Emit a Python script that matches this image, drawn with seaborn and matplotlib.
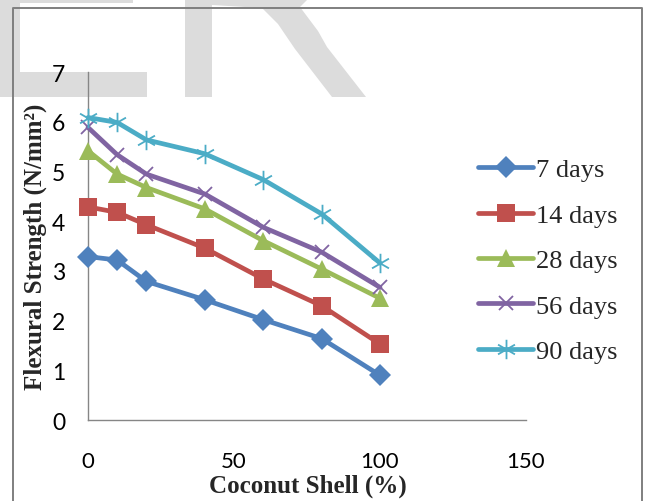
import numpy as np
import pandas as pd
import matplotlib
matplotlib.use("Agg")
import matplotlib.pyplot as plt
from matplotlib.path import Path
from matplotlib.patches import Rectangle, Polygon
from matplotlib.lines import Line2D
import seaborn as sns

# ---------------- data ----------------
coconut_shell = [0, 10, 20, 40, 60, 80, 100]
days_7 = [3.29, 3.22, 2.79, 2.42, 2.02, 1.64, 0.90]
days_14 = [4.29, 4.18, 3.93, 3.46, 2.84, 2.30, 1.53]
days_28 = [5.42, 4.95, 4.68, 4.25, 3.61, 3.04, 2.45]
days_56 = [5.89, 5.34, 4.95, 4.55, 3.88, 3.38, 2.67]
days_90 = [6.09, 5.99, 5.64, 5.36, 4.84, 4.15, 3.16]
series_labels = ["7 days", "14 days", "28 days", "56 days", "90 days"]
x_ticks = [0, 50, 100, 150]
y_ticks = [0, 1, 2, 3, 4, 5, 6, 7]

series_values = [days_7, days_14, days_28, days_56, days_90]
colors = ["#4F81BD", "#C0504D", "#9BBB59", "#8064A2", "#4BACC6"]

# asterisk marker (Excel "star")
star_path = Path(
    [(0, -1), (0, 1), (-0.87, -0.5), (0.87, 0.5), (-0.87, 0.5), (0.87, -0.5)],
    [Path.MOVETO, Path.LINETO, Path.MOVETO, Path.LINETO, Path.MOVETO, Path.LINETO],
)
marker_styles = [
    dict(marker="D", markersize=11.5, markeredgewidth=0),
    dict(marker="s", markersize=13.5, markeredgewidth=0),
    dict(marker="^", markersize=13, markeredgewidth=0),
    dict(marker="x", markersize=10, markeredgewidth=1.3),
    dict(marker=star_path, markersize=14, markeredgewidth=1.3, fillstyle="none"),
]

sns.set_style("white")

W, H = 648, 502
fig = plt.figure(figsize=(W / 100, H / 100), dpi=100)
fig.patch.set_facecolor("white")


def fx(px):
    return px / W


def fy(py):
    return 1 - py / H


# ---------------- watermark ("ER") ----------------
wm = "#DCDCDC"
for (x0, y0, x1, y1) in [(0, 0, 133, 4), (0, 0, 20, 98), (0, 73, 147, 98), (185, 0, 212, 98)]:
    fig.patches.append(Rectangle((fx(x0), fy(y1)), fx(x1) - fx(x0), fy(y0) - fy(y1),
                                 transform=fig.transFigure, facecolor=wm, edgecolor="none", zorder=0))
leg_pts = [(212, 0), (308, 0), (300, 8), (318, 32), (327, 48), (366, 98), (332, 98),
           (295, 50), (278, 25), (262, 9), (212, 6)]
fig.patches.append(Polygon([(fx(a), fy(b)) for a, b in leg_pts], closed=True,
                           transform=fig.transFigure, facecolor=wm, edgecolor="none", zorder=0))

# ---------------- figure border ----------------
border_col = "#7F7F7F"
fig.lines.append(Line2D([fx(13), fx(13), fx(642), fx(642)], [0, fy(9), fy(9), 0],
                        transform=fig.transFigure, color=border_col, linewidth=1.4, zorder=1))

# ---------------- axes ----------------
ax = fig.add_axes([fx(88), fy(421), fx(526) - fx(88), fy(73.3) - fy(421)])
ax.set_facecolor("none")
ax.set_zorder(2)

for lab, vals, col, ms in zip(series_labels, series_values, colors, marker_styles):
    sns.lineplot(x=coconut_shell, y=vals, ax=ax, color=col, linewidth=3.4, label=lab,
                 markeredgecolor=col, clip_on=False, zorder=3, **ms)

ax.set_xlim(0, 150)
ax.set_ylim(0, 7)
ax.set_xticks(x_ticks)
ax.set_yticks(y_ticks)
ax.set_xticklabels([str(v) for v in x_ticks])
ax.set_yticklabels([str(v) for v in y_ticks])

for s in ["top", "right"]:
    ax.spines[s].set_visible(False)
for s in ["left", "bottom"]:
    ax.spines[s].set_color("#868686")
    ax.spines[s].set_linewidth(1.0)

tick_font = "Lato"
ax.tick_params(axis="y", direction="out", length=6, width=1, color="#868686", pad=10.5,
               labelsize=16.5, labelcolor="black")
ax.tick_params(axis="x", direction="out", length=6.5, width=1, color="#868686", pad=16,
               labelsize=16, labelcolor="black")
for t in ax.get_xticklabels() + ax.get_yticklabels():
    t.set_fontfamily(tick_font)

ax.set_xlabel("")
ax.set_ylabel("")
fig.text(fx(308), fy(493), "Coconut Shell (%)", ha="center", va="baseline",
         fontsize=18, fontweight="bold", family="Liberation Serif")
fig.text(fx(35), fy(247), "Flexural Strength (N/mm²)", ha="center", va="center",
         rotation=90, fontsize=18, fontweight="bold", family="Liberation Serif")

leg = ax.legend(loc="upper left", bbox_to_anchor=(fx(478), fy(159)),
                bbox_transform=fig.transFigure, frameon=False, borderpad=0,
                borderaxespad=0, handlelength=2.1, handletextpad=0.1, labelspacing=0.83,
                prop={"family": "Liberation Serif", "size": 19})
for h in leg.get_lines():
    h.set_linewidth(3.4)

fig.savefig("out.png", dpi=100)
